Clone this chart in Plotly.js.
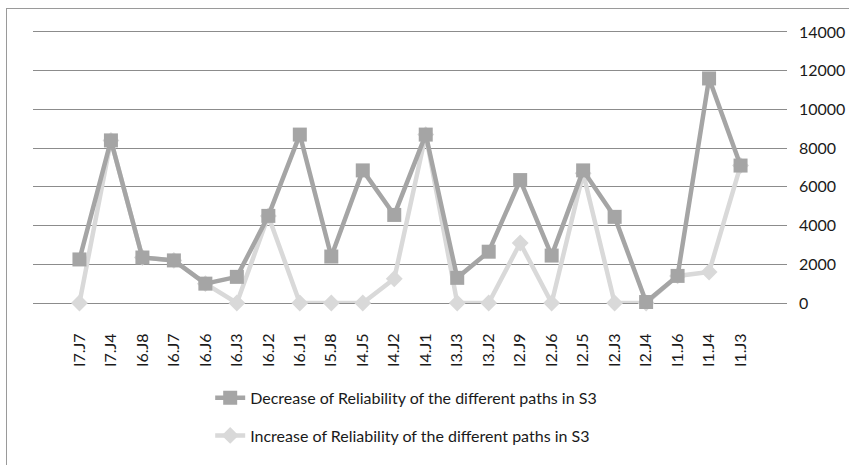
<!DOCTYPE html>
<html>
<head>
<meta charset="utf-8">
<script src="https://cdn.plot.ly/plotly-3.0.1.min.js"></script>
<style>
html,body{margin:0;padding:0;width:849px;height:465px;overflow:hidden;background:#fff;}
#frame{position:absolute;left:6px;top:8px;width:900px;height:500px;border:1px solid #9a9a9a;box-sizing:border-box;}
#chart{position:absolute;left:0;top:0;width:849px;height:465px;}
</style>
</head>
<body>
<div id="frame"></div>
<div id="chart"></div>
<script>
var categories = ["I7.J7","I7.J4","I6.J8","I6.J7","I6.J6","I6.J3","I6.J2","I6.J1","I5.J8","I4.J5","I4.J2","I4.J1","I3.J3","I3.J2","I2.J9","I2.J6","I2.J5","I2.J3","I2.J4","I1.J6","I1.J4","I1.J3"];
var decreaseValues = [2250,8400,2350,2200,1000,1350,4500,8700,2400,6850,4550,8700,1300,2650,6350,2450,6850,4450,50,1400,11600,7100];
var increaseValues = [0,8400,2350,2200,1000,0,4500,0,0,0,1250,8700,0,0,3100,0,6700,0,0,1400,1600,7100];
var decreaseName = "Decrease of Reliability of the different paths in S3";
var increaseName = "Increase of Reliability of the different paths in S3";
var yTicks = [0,2000,4000,6000,8000,10000,12000,14000];

var traces = [
  {x: categories, y: increaseValues, name: increaseName, type: "scatter", mode: "lines+markers",
   legend: "legend2", cliponaxis: false,
   line: {color: "#d9d9d9", width: 4.5}, marker: {symbol: "diamond", size: 13, color: "#d9d9d9"}},
  {x: categories, y: decreaseValues, name: decreaseName, type: "scatter", mode: "lines+markers",
   legend: "legend", cliponaxis: false,
   line: {color: "#a5a5a5", width: 4.5}, marker: {symbol: "square", size: 14, color: "#a5a5a5"}}
];

var legendCommon = {orientation: "v", xanchor: "left", yanchor: "middle",
                    font: {size: 16}, bgcolor: "rgba(0,0,0,0)"};

var layout = {
  width: 849, height: 465,
  paper_bgcolor: "rgba(0,0,0,0)", plot_bgcolor: "rgba(0,0,0,0)",
  margin: {l: 33, r: 62, t: 32, b: 159},
  font: {family: "Lato, 'Open Sans', sans-serif", size: 16, color: "#1a1a1a"},
  xaxis: {type: "category", tickangle: -90, ticks: "", showgrid: false, zeroline: false,
          showline: true, mirror: true, linecolor: "#8c8c8c", linewidth: 1,
          ticklabelstandoff: 23, tickfont: {size: 16}, layer: "below traces"},
  yaxis: {side: "right", range: [0, 14000], tickvals: yTicks, ticktext: yTicks.map(String),
          showgrid: true, gridcolor: "#8c8c8c", gridwidth: 1, zeroline: false, showline: false,
          ticks: "", ticklabelstandoff: 11, tickfont: {size: 16}},
  showlegend: true,
  legend: Object.assign({x: 0.235, y: -0.35}, legendCommon),
  legend2: Object.assign({x: 0.235, y: -0.489}, legendCommon)
};

Plotly.newPlot("chart", traces, layout, {displayModeBar: false, staticPlot: true});
</script>
</body>
</html>
